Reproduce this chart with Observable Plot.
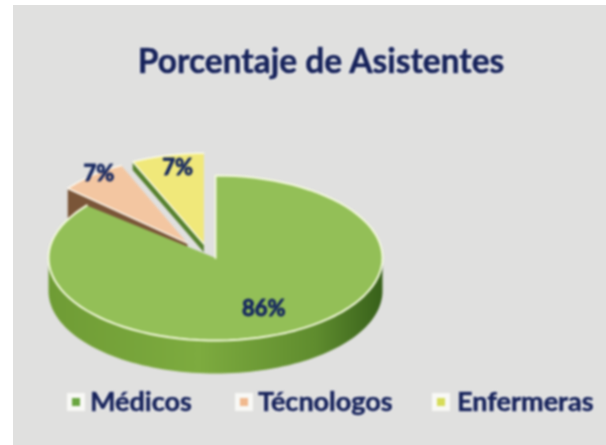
<!DOCTYPE html>
<html>
<head>
<meta charset="utf-8">
<script src="https://cdn.jsdelivr.net/npm/d3@7"></script>
<script src="https://cdn.jsdelivr.net/npm/@observablehq/plot@0.6"></script>
<style>
html,body{margin:0;padding:0;background:#fff;width:606px;height:445px;overflow:hidden}
#panel{position:absolute;left:13px;top:5px;width:593px;height:440px;background:#e0e0df}
#panel svg{position:absolute;left:0;top:0;filter:blur(1px)}
.t{position:absolute;font-family:Lato,sans-serif;font-weight:700;color:#16225a;white-space:nowrap;
   -webkit-text-stroke:.6px #16225a;text-shadow:0 0 3px #fff,0 0 2px #fff;filter:blur(.8px)}
#title{left:0;width:616px;top:36px;text-align:center;font-size:33.5px;line-height:38px}
.lg{top:381px;font-size:27px;line-height:30px}
.sw{position:absolute;top:393px;width:8px;height:8px;box-shadow:0 0 0 5px #f8f8f5;filter:blur(1.2px)}
</style>
</head>
<body>
<div id="panel"></div>
<script>
const categories = ["Médicos", "Técnologos", "Enfermeras"];
const values = [86, 7, 7];
const labels = ["86%", "7%", "7%"];
const title = "Porcentaje de Asistentes";
const topColors = ["#93bf57", "#f3c6a1", "#f0e87a"];
const markerColors = ["#6aa640", "#f0b98e", "#d6dc58"];

// geometry of the tilted pie, in pie units (radius 1, centre 0)
const explode = [[0, 0], [-0.168, 0.18], [-0.07, 0.17]];
const radiusX = [1, 0.93, 1];
const radiusY = [1, 1.04, 1.1];
const labelAt = [0.68, 0.93, 0.72];
const labelLift = [0, 0.08, 0.15];
const depth = 0.4;

const arcs = d3.pie().sort(null).startAngle(0).endAngle(2 * Math.PI)(values);
const pt = (i, a, k = 1) => ({
  x: explode[i][0] + Math.sin(a) * radiusX[i] * k,
  y: explode[i][1] + Math.cos(a) * radiusY[i] * k
});
const sweep = (a0, a1, n = 90) => d3.range(n + 1).map(j => a0 + (a1 - a0) * j / n);

const slices = arcs.map((d, i) => [
  pt(i, 0, 0),
  ...sweep(d.startAngle, d.endAngle).map(a => pt(i, a))
].map(p => ({...p, i})));

// outer wall of the big slice: visible front part of the rim
const front = sweep(Math.PI / 2, 3 * Math.PI / 2);
const rim = [
  ...front.map(a => pt(0, a)),
  ...front.slice().reverse().map(a => { const p = pt(0, a); return {x: p.x, y: p.y - depth}; })
];
// cut faces of the two small slices
const wallOf = (i, a, h) => {
  const c = pt(i, 0, 0), e = pt(i, a);
  return [c, e, {x: e.x, y: e.y - h}, {x: c.x, y: c.y - h}];
};
const brownWall = wallOf(1, arcs[1].startAngle, 0.42);
const greenWall = wallOf(2, arcs[2].startAngle, 0.1);

const labelData = arcs.map((d, i) => {
  const p = pt(i, (d.startAngle + d.endAngle) / 2, labelAt[i]);
  return {x: p.x, y: p.y + labelLift[i], t: labels[i]};
});

const defs = () => {
  const s = d3.create("svg:defs");
  const g = s.append("linearGradient").attr("id", "wall");
  [[0, "#6f9c35"], [0.45, "#7dab3f"], [0.8, "#5f8c2e"], [1, "#37601a"]].forEach(([o, c]) =>
    g.append("stop").attr("offset", o).attr("stop-color", c));
  return s.node();
};

const chart = Plot.plot({
  width: 593, height: 440,
  margin: 0,
  style: {background: "transparent"},
  x: {domain: [-1, 1], range: [35, 369], axis: null},
  y: {domain: [-1, 1], range: [335, 170], axis: null},
  marks: [
    defs,
    Plot.line(rim, {x: "x", y: "y", fill: "url(#wall)", stroke: "none"}),
    Plot.line(brownWall, {x: "x", y: "y", fill: "#7a5538", stroke: "none"}),
    Plot.line(greenWall, {x: "x", y: "y", fill: "#55802c", stroke: "none"}),
    Plot.line(slices[1], {x: "x", y: "y", fill: topColors[1], stroke: "#fbf7ee", strokeWidth: 1.5}),
    Plot.line(slices[2], {x: "x", y: "y", fill: topColors[2], stroke: "#fbfbe8", strokeWidth: 1.5}),
    Plot.line(slices[0], {x: "x", y: "y", fill: topColors[0], stroke: "#f2f8dc", strokeWidth: 2}),
    Plot.text(labelData, {x: "x", y: "y", text: "t", fill: "#14265f", fontSize: 22, fontWeight: 700, fontFamily: "Lato,sans-serif",
      stroke: "#14265f", strokeWidth: 0.9})
  ]
});

const panel = document.getElementById("panel");
panel.appendChild(chart);

const h = document.createElement("div");
h.id = "title"; h.className = "t"; h.textContent = title;
panel.appendChild(h);

const textX = [77, 245, 444], swatchX = [59, 227, 424];
categories.forEach((c, i) => {
  const s = document.createElement("div");
  s.className = "sw"; s.style.left = swatchX[i] + "px"; s.style.background = markerColors[i];
  panel.appendChild(s);
  const t = document.createElement("div");
  t.className = "t lg"; t.style.left = textX[i] + "px"; t.textContent = c;
  panel.appendChild(t);
});
</script>
</body>
</html>
